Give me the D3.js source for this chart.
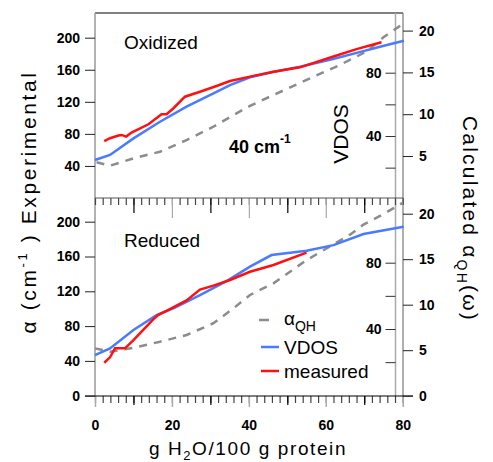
<!DOCTYPE html>
<html>
<head>
<meta charset="utf-8">
<script src="https://cdn.jsdelivr.net/npm/d3@7"></script>
<style>
  body { margin: 0; background: #fff; }
  text { font-family: "Liberation Sans", Arial, sans-serif; }
  .tick text { font-weight: bold; font-size: 14px; fill: #000; }
</style>
</head>
<body>
<div id="chart"></div>
<script>
// x values: g H2O / 100 g protein
// oxidized panel
var oxMeasured = [[2.4,71],[3.9,74.6],[6.1,77.9],[6.9,78.7],[8.1,76.6],[9.5,81.6],[13.9,92],[17.3,104.6],[18.6,104.6],[20.4,112],[23.4,126.4],[27.3,132.6],[31.6,139.7],[35.1,146],[40.3,151.4],[46.4,157.6],[53.3,163],[62,176.6],[68,185.8],[74.5,194.4]];
var oxVdos = [[0,24.8],[3.9,28.0],[10,38.5],[16.9,49.0],[23.8,58.5],[30.8,67.0],[35.1,72.2],[40.3,77.1],[46.3,80.4],[53.3,83.8],[61.9,88.7],[69.3,93.3],[74.1,96.4],[80.3,100.2]];
var oxQh = [[0.4,4.25],[3.9,3.84],[10,4.72],[16.9,5.51],[23.8,6.91],[30.8,8.5],[36,9.9],[40.3,11.0],[46.4,12.3],[55,14.1],[63.7,15.9],[70.6,17.5],[75,19.2],[80,20.8]];
// reduced panel
var redMeasured = [[2.4,37.9],[3.9,44.1],[5.2,54.5],[7.8,54.5],[10,64],[12.6,76],[15.2,88],[16.5,93],[18.6,97.5],[23.8,109.5],[27.3,122],[30.8,126.5],[35.1,133],[40.3,142.5],[46.4,150.2],[55,164.4]];
var redVdos = [[0,24.3],[3.9,28.3],[10,39.4],[16,48.4],[20.4,52.5],[27.3,60.5],[34.2,68.9],[40.3,77.6],[45.9,84.6],[55,87.2],[62,90.6],[69.8,97.3],[80.2,101.7]];
var redQh = [[0,5.2],[3.9,4.84],[10,5.27],[16.9,5.93],[23.8,6.67],[30.8,7.96],[36,9.6],[40.3,11.07],[46.4,12.35],[55,14.9],[61.1,16.4],[66.3,17.7],[69.8,18.8],[74.1,19.75],[78,20.7],[80,21.2]];

var xTicks = [0, 20, 40, 60, 80];
var leftTicksTop = [40, 80, 120, 160, 200];
var leftTicksBottom = [0, 40, 80, 120, 160, 200];
var vdosTicks = [20, 40, 60, 80];
var rightTicksTop = [5, 10, 15, 20];
var rightTicksBottom = [0, 5, 10, 15, 20];

var colors = { measured: "#ff1010", vdos: "#4a7bff", qh: "#8c8c8c" };

var width = 493, height = 462;
var svg = d3.select("#chart").append("svg").attr("width", width).attr("height", height);

var x = d3.scaleLinear().domain([0, 80]).range([95, 402.7]);

var panels = [
  { name: "Oxidized", top: 13, bottom: 198, measured: oxMeasured, vdos: oxVdos, qh: oxQh,
    yL: d3.scaleLinear().domain([0, 200]).range([198, 37.7]),
    yV: d3.scaleLinear().domain([0, 80]).range([199.3, 72.7]),
    yR: d3.scaleLinear().domain([0, 20]).range([197.8, 30.6]),
    leftTicks: leftTicksTop, rightTicks: rightTicksTop, labelY: 49 },
  { name: "Reduced", top: 198, bottom: 396, measured: redMeasured, vdos: redVdos, qh: redQh,
    yL: d3.scaleLinear().domain([0, 200]).range([395.7, 221.7]),
    yV: d3.scaleLinear().domain([0, 80]).range([395.3, 262.7]),
    yR: d3.scaleLinear().domain([0, 20]).range([395.7, 213.7]),
    leftTicks: leftTicksBottom, rightTicks: rightTicksBottom, labelY: 247 }
];

// frame lines
svg.append("line").attr("x1", 95).attr("x2", 403).attr("y1", 13).attr("y2", 13)
  .attr("stroke", "#000").attr("stroke-width", 1);
svg.append("line").attr("x1", 95).attr("x2", 95).attr("y1", 13).attr("y2", 396)
  .attr("stroke", "#999").attr("stroke-width", 1.5);
svg.append("line").attr("x1", 395.5).attr("x2", 395.5).attr("y1", 13).attr("y2", 396)
  .attr("stroke", "#aaa").attr("stroke-width", 1.5);
svg.append("line").attr("x1", 403).attr("x2", 403).attr("y1", 13).attr("y2", 396)
  .attr("stroke", "#777").attr("stroke-width", 1.2);

// axis between panels (ticks pointing down)
function tickAxis(y, vals, size, color) {
  var g = svg.append("g").attr("transform", "translate(0," + y + ")")
    .call(d3.axisBottom(x).tickValues(vals).tickSize(size).tickFormat(""));
  g.select(".domain").remove();
  g.selectAll(".tick line").attr("stroke", color).attr("stroke-width", 1.2);
  return g;
}
tickAxis(198, d3.range(0, 81, 2), 7, "#444");
tickAxis(198, [10, 30, 50, 70], 15, "#000");
tickAxis(198, [20, 40, 60], 20, "#aaa");
svg.append("line").attr("x1", 95).attr("x2", 403).attr("y1", 198).attr("y2", 198)
  .attr("stroke", "#555").attr("stroke-width", 1);

// bottom axis
tickAxis(396, d3.range(0, 81, 2), 7, "#444");
tickAxis(396, [10, 30, 50, 70], 9, "#000");
var xAxis = svg.append("g").attr("transform", "translate(0,396)")
  .call(d3.axisBottom(x).tickValues(xTicks).tickSize(11).tickPadding(13));
xAxis.select(".domain").remove();
xAxis.selectAll(".tick line").attr("stroke", "#aaa").attr("stroke-width", 1.5);
svg.append("line").attr("x1", 85).attr("x2", 413).attr("y1", 396).attr("y2", 396)
  .attr("stroke", "#000").attr("stroke-width", 1.2);

var line = function (yS) {
  return d3.line().x(function (d) { return x(d[0]); }).y(function (d) { return yS(d[1]); });
};

panels.forEach(function (p) {
  var gl = svg.append("g").attr("transform", "translate(95,0)")
    .call(d3.axisLeft(p.yL).tickValues(p.leftTicks).tickSize(10).tickPadding(5));
  gl.select(".domain").remove();
  gl.selectAll(".tick line").attr("stroke", "#222");

  var gv = svg.append("g").attr("transform", "translate(395.5,0)")
    .call(d3.axisLeft(p.yV).tickValues(vdosTicks).tickSize(10).tickPadding(4)
      .tickFormat(function (d) { return d % 40 === 0 ? d : ""; }));
  gv.select(".domain").remove();
  gv.selectAll(".tick line").attr("stroke", "#333");

  var gr = svg.append("g").attr("transform", "translate(403,0)")
    .call(d3.axisRight(p.yR).tickValues(p.rightTicks).tickSize(10).tickPadding(6));
  gr.select(".domain").remove();
  gr.selectAll(".tick line").attr("stroke", "#222");

  svg.append("path").datum(p.qh).attr("d", line(p.yR))
    .attr("fill", "none").attr("stroke", colors.qh).attr("stroke-width", 2.5)
    .attr("stroke-dasharray", "8,7");
  svg.append("path").datum(p.vdos).attr("d", line(p.yV))
    .attr("fill", "none").attr("stroke", colors.vdos).attr("stroke-width", 2.5);
  svg.append("path").datum(p.measured).attr("d", line(p.yL))
    .attr("fill", "none").attr("stroke", colors.measured).attr("stroke-width", 2.5);

  svg.append("text").attr("x", 124).attr("y", p.labelY)
    .style("font-size", "19px").text(p.name);
});

// annotation in top panel
var ann = svg.append("text").attr("x", 229).attr("y", 153)
  .style("font-size", "18px").style("font-weight", "bold");
ann.append("tspan").text("40 cm");
ann.append("tspan").attr("dy", -10).style("font-size", "12px").text("-1");

// VDOS inner label
svg.append("text").attr("transform", "translate(348,134) rotate(-90)")
  .attr("text-anchor", "middle").style("font-size", "21px").text("VDOS");

// legend
var legend = [
  { key: "qh", x1: 259, x2: 269, y: 320 },
  { key: "vdos", x1: 261, x2: 279, y: 347 },
  { key: "measured", x1: 261, x2: 279, y: 371 }
];
legend.forEach(function (l) {
  svg.append("line").attr("x1", l.x1).attr("x2", l.x2).attr("y1", l.y).attr("y2", l.y)
    .attr("stroke", colors[l.key]).attr("stroke-width", 2.5);
});
var lq = svg.append("text").attr("x", 284).attr("y", 325).style("font-size", "19px");
lq.append("tspan").text("α");
lq.append("tspan").attr("dy", 6).style("font-size", "14px").text("QH");
svg.append("text").attr("x", 284).attr("y", 354).style("font-size", "19px").text("VDOS");
svg.append("text").attr("x", 284).attr("y", 378).style("font-size", "19px").text("measured");

// axis titles
var xt = svg.append("text").attr("x", 248).attr("y", 455).attr("text-anchor", "middle")
  .style("font-size", "19px").style("letter-spacing", "1.6px");
xt.append("tspan").text("g H");
xt.append("tspan").attr("dy", 5).style("font-size", "13px").text("2");
xt.append("tspan").attr("dy", -5).text("O/100 g protein");

var lt = svg.append("text").attr("transform", "translate(36,202) rotate(-90)")
  .attr("text-anchor", "middle").style("font-size", "21px").style("letter-spacing", "2.6px");
lt.append("tspan").text("α (cm");
lt.append("tspan").attr("dy", -9).style("font-size", "13px").text("-1");
lt.append("tspan").attr("dy", 9).text(" ) Experimental");

var rt = svg.append("text").attr("transform", "translate(463,219) rotate(90)")
  .attr("text-anchor", "middle").style("font-size", "21px").style("letter-spacing", "2.2px");
rt.append("tspan").text("Calculated α");
rt.append("tspan").attr("dy", 6).style("font-size", "14px").text("QH");
rt.append("tspan").attr("dy", -6).text("(ω)");
</script>
</body>
</html>
